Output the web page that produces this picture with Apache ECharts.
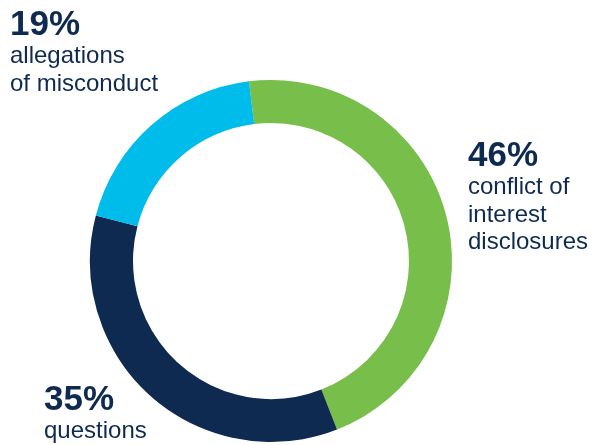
<!DOCTYPE html>
<html>
<head>
<meta charset="utf-8">
<script src="https://cdn.jsdelivr.net/npm/echarts@6/dist/echarts.min.js"></script>
<style>
html,body{margin:0;padding:0;background:#fff;}
#chart{width:597px;height:445px;}
</style>
</head>
<body>
<div id="chart"></div>
<script>
var categories = ['conflict of\ninterest\ndisclosures', 'questions', 'allegations\nof misconduct'];
var values = [46, 35, 19];
var colors = ['#78BE4B', '#0E2A50', '#00BCEB'];
var labelPos = [[468, 138], [44, 382], [10, 7]];

var chart = echarts.init(document.getElementById('chart'), null, {renderer: 'canvas'});
chart.setOption({
  animation: false,
  series: [{
    type: 'pie',
    center: [271, 261],
    radius: [138, 181],
    startAngle: 97,
    clockwise: true,
    silent: true,
    emphasis: {disabled: true},
    labelLine: {show: false},
    label: {
      show: true,
      position: 'outside',
      overflow: 'none',
      width: 200,
      formatter: function (p) { return '{p|' + p.value + '%}\n{t|' + p.name.split('\n').join('}\n{t|') + '}'; },
      color: '#0E2A50',
      fontFamily: 'Liberation Sans',
      rich: {
        p: {fontSize: 35, fontWeight: 'bold', lineHeight: 36, color: '#0E2A50', fontFamily: 'Liberation Sans'},
        t: {fontSize: 24, lineHeight: 27.5, color: '#0E2A50', fontFamily: 'Liberation Sans'}
      }
    },
    labelLayout: function (params) {
      var pos = labelPos[params.dataIndex];
      return {x: pos[0], y: pos[1], align: 'left', verticalAlign: 'top', hideOverlap: false};
    },
    data: categories.map(function (c, i) {
      return {name: c, value: values[i], itemStyle: {color: colors[i]}};
    })
  }]
});
</script>
</body>
</html>
